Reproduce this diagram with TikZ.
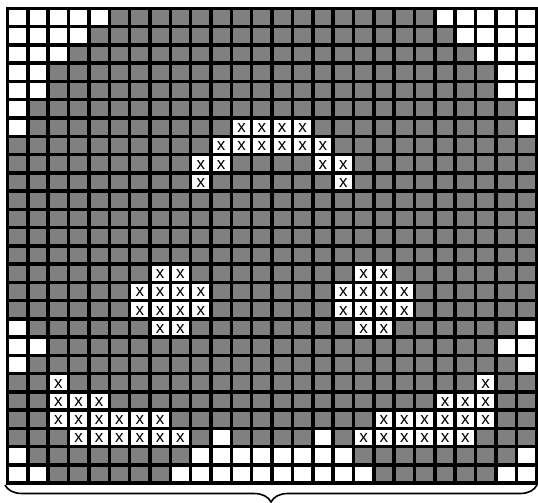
\documentclass[tikz,border=0pt]{standalone}
\usepackage{fontspec}
\usepackage{xcolor}
\usetikzlibrary{decorations.pathreplacing}
\newfontfamily\markfont{Liberation Sans}
\definecolor{Cell_Gray}{HTML}{808080}
\definecolor{Cell_Line}{HTML}{000000}

\begin{document}
\begin{tikzpicture}[x=20.35pt, y=-18.25pt,
  gridline/.style={Cell_Line, line width=3.5pt, line cap=rect},
  openbox/.style={fill=white},
  markbox/.style={fill=white},
  mark label/.style={inner sep=0pt, font=\markfont\fontsize{17}{17}\selectfont}]
\useasboundingbox (-7.5pt,8.5pt) rectangle (530.5pt,-494.5pt);
% --- background of the board ---
\fill[Cell_Gray] (0,0) rectangle (26,26);
% --- open cells (row/columns) ---
\foreach \r/\cols in {0/{0,1,2,3,4,21,22,23,24,25}, 1/{0,1,2,3,22,23,24,25},
  2/{0,1,2,23,24,25}, 3/{0,1,24,25}, 4/{0,1,24,25}, 5/{0,25}, 6/{0,25},
  17/{0,25}, 18/{0,1,24,25}, 19/{0,25}, 23/{10,15},
  24/{0,9,10,11,12,13,14,15,16,25}, 25/{0,1,8,9,10,11,12,13,14,15,16,17,24,25}} {
  \foreach \c in \cols {
    \fill[openbox] (\c,\r) rectangle ++(1,1);
  }
}
% --- marked cells ---
\foreach \r/\cols in {6/{11,12,13,14}, 7/{10,11,12,13,14,15}, 8/{9,10,15,16}, 9/{9,16},
  14/{7,8,17,18}, 15/{6,7,8,9,16,17,18,19}, 16/{6,7,8,9,16,17,18,19}, 17/{7,8,17,18},
  20/{2,23}, 21/{2,3,4,21,22,23}, 22/{2,3,4,5,6,7,18,19,20,21,22,23},
  23/{3,4,5,6,7,8,17,18,19,20,21,22}} {
  \foreach \c in \cols {
    \fill[markbox] (\c,\r) rectangle ++(1,1);
    \node[mark label] (mk-\r-\c) at (\c+0.5,\r+0.55) {x};
  }
}
% --- grid lines ---
\foreach \i in {0,...,26} {
  \draw[gridline] (\i,0) -- (\i,26);
  \draw[gridline] (0,\i) -- (26,\i);
}
% --- brace under the board ---
\coordinate (braceL) at (-2.5pt,-476.5pt);
\coordinate (braceR) at (529.5pt,-476.5pt);
\draw[line width=1.6pt, decorate, decoration={brace, mirror, amplitude=17pt}] (braceL) -- (braceR);
\end{tikzpicture}
\end{document}
